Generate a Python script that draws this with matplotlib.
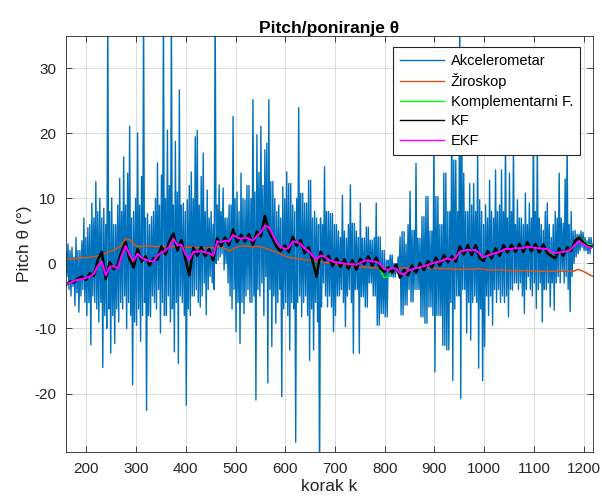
import numpy as np
import matplotlib
matplotlib.use("Agg")
import matplotlib.pyplot as plt

plt.rcParams['font.family'] = ['Liberation Sans', 'DejaVu Sans']
plt.rcParams['axes.unicode_minus'] = False

# ---------------- data ----------------
k_start = 159
acc_step = 2
accel = [
    1.5, -2.0, 3.0, -4.0, 2.0, -5.0, 2.5, -3.5, 1.0, -6.5,
    4.0, -4.5, 2.0, -7.5, 2.0, -5.0, 3.5, -4.0, 7.0, -6.0,
    4.0, -8.0, 5.5, -6.0, 6.0, -12.5, 9.3, -5.0, 7.0, -6.0,
    12.6, -7.0, 8.0, -9.0, 10.0, -6.0, 7.0, -16.0, 8.5, -8.0,
    6.0, -10.0, 40.0, -7.0, 8.0, -13.8, 10.1, -8.0, 6.0, -12.3,
    6.0, -7.0, 9.0, -9.0, 13.1, -6.0, 8.0, -7.0, 16.4, -5.0,
    9.0, -10.0, 13.9, -6.0, 21.1, -8.0, 7.0, -18.7, 8.0, -9.0,
    10.0, -9.5, 20.1, -7.0, 9.0, -12.0, 13.4, -8.0, 40.0, -6.0,
    7.0, -22.6, 7.7, -8.0, 6.0, -8.2, 7.2, -5.0, 8.0, -6.0,
    10.0, -7.0, 15.5, -4.0, 9.0, -10.7, 13.6, -6.0, 40.0, -8.0,
    10.0, -8.0, 20.5, -5.0, 12.0, -9.0, 40.0, -7.0, 9.0, -13.6,
    18.8, -6.0, 11.0, -15.4, 26.7, -5.0, 9.0, -6.0, 9.3, -8.0,
    8.0, -21.8, 9.8, -7.0, 12.0, -8.0, 14.1, -5.0, 10.0, -5.0,
    19.5, -4.0, 20.5, -6.0, 9.0, -6.7, 13.4, -5.0, 17.0, -3.0,
    8.0, -7.9, 11.3, -4.0, 7.0, -2.0, 8.0, -3.0, 6.0, -4.0,
    40.0, 0.0, 9.0, 0.5, 12.1, 1.0, 8.0, 1.5, 11.6, -1.0,
    7.0, 0.0, 7.0, -3.0, 9.0, -5.0, 9.0, -7.0, 22.6, -4.0,
    10.0, -10.5, 11.0, -6.0, 8.0, -12.3, 13.9, -6.0, 10.0, -7.7,
    9.8, -5.0, 12.0, -4.0, 12.0, -6.0, 10.0, -6.0, 25.2, -5.0,
    11.0, -21.0, 19.8, -4.0, 14.0, -5.0, 21.1, -3.0, 12.0, -8.0,
    17.5, -2.0, 18.5, -18.4, 25.2, -4.0, 12.6, -12.8, 12.6, -5.0,
    10.0, -9.2, 8.0, -6.0, 9.0, -4.0, 7.0, -20.5, 11.8, -7.0,
    10.0, -6.0, 14.1, -8.0, 12.3, -13.3, 12.3, -6.0, 9.0, -7.0,
    8.0, -27.5, 10.0, -6.0, 24.0, -5.0, 10.8, -8.2, 10.8, -6.0,
    9.3, -5.0, 9.3, -8.0, 12.8, -14.9, 12.8, -7.0, 7.0, -13.3,
    8.0, -6.0, 7.0, -9.0, 6.0, -35.0, 7.0, -6.7, 6.0, -3.0,
    14.9, -5.0, 8.0, -6.7, 8.0, -5.0, 7.7, -6.7, 7.7, -10.5,
    6.0, -8.0, 6.0, -5.0, 5.0, -5.0, 4.0, -4.0, 10.5, -6.0,
    5.0, -9.7, 3.9, -5.0, 6.0, -4.0, 12.1, -6.0, 6.2, -13.8,
    6.2, -4.0, 5.0, -4.0, 4.0, -13.8, 9.3, -5.1, 3.9, -5.1,
    3.9, -6.7, 5.6, -6.7, 5.6, -3.0, 3.6, -3.0, 3.6, -5.0,
    4.0, -5.0, 9.3, -9.5, 4.1, -9.5, 4.1, -7.7, 2.0, -7.7,
    2.0, -8.2, 0.5, -8.2, 0.5, -2.0, 1.3, -2.0, 1.3, -2.1,
    0.0, -2.1, 0.0, -1.5, 1.0, -1.5, 4.1, -7.9, 4.9, -7.9,
    4.9, -6.4, 3.0, -6.4, 6.0, -4.0, 11.1, -5.9, 5.1, -5.9,
    5.1, -4.0, 15.4, -4.0, 3.9, -4.0, 3.9, -8.2, 7.2, -8.2,
    7.2, -9.2, 10.3, -9.2, 10.3, -6.7, 5.0, -6.7, 5.0, -8.0,
    20.0, -16.7, 10.3, -8.0, 10.3, -8.0, 6.0, -8.0, 6.0, -12.6,
    13.9, -12.6, 13.9, -13.3, 8.0, -13.3, 8.0, -6.0, 25.0, -18.0,
    15.9, -7.0, 15.9, -5.0, 8.0, -5.0, 40.0, -20.8, 22.0, -4.0,
    13.9, -4.0, 8.0, -10.7, 8.0, -6.0, 12.3, -11.8, 9.0, -6.0,
    12.3, -5.0, 8.0, -6.0, 18.0, -16.1, 9.8, -7.0, 8.0, -18.0,
    6.0, -12.8, 9.0, -5.0, 7.0, -8.0, 12.8, -5.0, 8.0, -9.5,
    7.0, -4.0, 14.4, -6.0, 8.0, -4.0, 9.0, -6.0, 14.4, -5.0,
    8.0, -6.0, 20.0, -5.0, 7.0, -8.2, 13.9, -4.0, 8.0, -4.1,
    18.0, -3.0, 6.0, -3.0, 9.8, -4.0, 7.0, -3.0, 7.0, -5.0,
    6.0, -7.7, 10.8, -4.0, 6.0, -2.0, 9.3, -4.0, 7.0, -5.0,
    20.0, -3.0, 8.0, -6.9, 19.0, -4.0, 7.0, -3.0, 6.0, -9.0,
    5.1, -4.0, 8.0, -4.0, 9.3, -3.0, 6.0, -6.7, 4.0, -3.0,
    6.0, -7.2, 8.0, -3.0, 7.0, -2.0, 13.9, -3.0, 7.0, -1.0,
    6.2, -3.0, 13.0, -2.0, 19.0, -4.0, 6.0, -7.4, 8.0, -2.0,
    5.0, 0.0, 5.1, 1.0, 4.5, 1.5, 4.5, 2.0, 5.0, 2.5,
    4.8, 2.0, 4.0, 2.0, 3.5, 1.5, 4.0, 1.5, 4.0, 2.5,
    3.0, 2.5,
]

gyro_step = 10
gyro = [
    0.6, 0.7, 0.8, 0.9, 0.9, 1.0, 1.1, 1.3, 1.6, 1.9,
    2.2, 2.7, 3.8, 3.6, 2.7, 2.6, 2.7, 2.7, 2.6, 2.6,
    2.6, 2.6, 2.6, 2.6, 2.5, 2.5, 2.5, 2.4, 2.4, 2.4,
    2.5, 2.6, 2.3, 1.9, 2.4, 2.7, 2.7, 2.6, 2.6, 2.6,
    2.4, 2.1, 1.8, 1.5, 1.2, 0.9, 0.8, 0.7, 0.6, 0.5,
    0.4, 0.3, 0.2, 0.0, -0.1, -0.2, -0.3, -0.4, -0.5, -0.5,
    -0.6, -0.6, -0.7, -0.7, -0.8, -0.8, -0.8, -0.7, -0.7, -0.7,
    -0.7, -0.7, -0.7, -0.7, -0.7, -0.8, -0.8, -0.8, -0.9, -0.9,
    -0.9, -0.9, -0.9, -0.8, -0.9, -1.0, -1.0, -1.0, -1.0, -1.1,
    -1.1, -1.1, -1.1, -1.1, -1.1, -1.2, -1.2, -1.2, -1.2, -1.2,
    -1.2, -1.2, -1.2, -0.9, -1.2, -1.6, -2.0,
]

filt_step = 8
comp = [
    -3.1, -2.9, -2.8, -2.4, -2.1, -2.3, -1.7, -1.7, 0.2, 1.4,
    -2.1, 0.0, -0.7, -0.4, 1.7, 3.2, 0.9, -0.3, 2.0, 0.5,
    0.9, -0.1, 0.6, 0.8, 2.3, 1.6, 3.1, 4.4, 2.3, 3.4,
    1.0, -1.2, 2.2, 1.4, 2.3, 1.3, 2.0, 0.8, 4.0, 2.9,
    3.8, 3.0, 4.9, 3.5, 4.2, 3.6, 4.3, 3.1, 4.7, 4.4,
    6.8, 5.2, 4.0, 2.7, 2.1, 2.6, 2.0, 3.9, 2.9, 3.4,
    1.8, 2.3, 0.6, -1.4, 1.5, 0.7, 1.0, -0.2, 0.6, -0.3,
    0.4, -0.6, 0.3, -0.7, 0.5, 0.1, 0.9, -0.1, 0.7, -1.0,
    -2.2, -2.0, -1.2, -0.4, -2.0, -1.2, -1.6, -0.5, -1.2, -0.2,
    -0.8, 0.2, -0.4, 0.7, -0.1, 1.1, 0.4, 0.9, 0.5, 2.4,
    1.6, 2.6, 1.5, 2.6, 1.0, 0.6, 1.7, 1.0, 2.1, 1.4,
    2.6, 1.9, 2.7, 2.0, 2.8, 2.0, 3.1, 2.1, 2.8, 1.9,
    2.7, 1.8, 1.4, 1.0, 2.1, 1.4, 2.3, 2.3, 3.6, 4.1,
    3.6, 3.0, 2.9,
]
kf = [
    -3.3, -2.8, -2.9, -2.3, -2.0, -2.5, -1.5, -1.9, 0.5, 1.8,
    -2.4, 0.2, -0.9, -0.2, 1.9, 3.3, 0.6, -0.6, 2.2, 0.3,
    1.1, -0.3, 0.8, 0.6, 2.6, 1.4, 3.4, 4.6, 2.0, 3.6,
    0.8, -1.8, 2.4, 1.2, 2.5, 1.1, 2.2, 0.5, 3.9, 2.7,
    4.0, 2.8, 5.2, 3.3, 4.4, 3.4, 4.5, 2.9, 4.9, 4.2,
    7.3, 5.0, 3.8, 2.5, 1.9, 2.8, 1.8, 4.1, 2.7, 3.6,
    1.6, 2.5, 0.4, -2.0, 1.8, 0.5, 1.2, -0.4, 0.8, -0.5,
    0.6, -0.8, 0.5, -0.9, 0.7, -0.1, 1.1, -0.3, 0.9, -0.7,
    -1.3, -0.6, -1.4, -0.2, -2.2, -1.0, -1.8, -0.3, -1.4, 0.0,
    -1.0, 0.4, -0.6, 0.9, -0.3, 1.3, 0.2, 1.1, 0.3, 2.6,
    1.4, 2.8, 1.3, 2.8, 0.8, 0.4, 1.9, 0.8, 2.3, 1.2,
    2.8, 1.7, 2.9, 1.8, 3.0, 1.8, 3.3, 1.9, 3.0, 1.7,
    2.9, 1.6, 1.2, 0.8, 2.3, 1.2, 2.5, 2.0, 3.5, 4.0,
    3.3, 2.7, 2.6,
]
ekf = [
    -3.2, -3.0, -2.7, -2.5, -2.4, -2.2, -2.0, -1.6, -0.4, 0.3,
    -1.8, -0.5, -0.4, -0.8, 1.2, 2.7, 1.4, 0.4, 1.5, 0.9,
    0.6, 0.4, 0.3, 1.2, 1.7, 2.0, 2.6, 3.8, 2.8, 2.9,
    1.5, 0.6, 1.8, 1.8, 1.9, 1.7, 1.6, 1.2, 3.4, 3.3,
    3.5, 3.4, 4.4, 4.0, 3.8, 4.0, 3.8, 3.5, 4.2, 4.8,
    5.8, 5.6, 4.4, 3.2, 2.6, 2.2, 2.4, 3.4, 3.3, 3.0,
    2.3, 1.9, 1.2, 0.7, 1.2, 1.1, 0.6, 0.3, 0.2, 0.1,
    0.0, -0.1, -0.1, -0.2, 0.1, 0.4, 0.5, 0.3, 0.3, -0.1,
    -0.8, -1.0, -0.7, -0.8, -1.5, -1.7, -1.1, -0.9, -0.7, -0.6,
    -0.4, -0.2, 0.0, 0.2, 0.3, 0.6, 0.8, 0.5, 0.9, 1.8,
    2.0, 2.1, 2.0, 2.1, 1.5, 1.0, 1.2, 1.4, 1.6, 1.8,
    2.1, 2.3, 2.2, 2.4, 2.3, 2.4, 2.6, 2.5, 2.4, 2.3,
    2.3, 2.2, 1.8, 1.6, 1.7, 1.8, 1.9, 2.2, 2.9, 3.4,
    3.0, 2.6, 2.4,
]

labels = ["Akcelerometar", "Žiroskop", "Komplementarni F.", "KF", "EKF"]
colors = ["#0072BD", "#D95319", "#00FF00", "#000000", "#FF00FF"]
x_ticks = [200, 300, 400, 500, 600, 700, 800, 900, 1000, 1100, 1200]
y_ticks = [-20, -10, 0, 10, 20, 30]
x_lim = (159, 1219)
y_lim = (-29, 35)

# ---------------- plot ----------------
k_acc = np.arange(k_start, k_start + acc_step * len(accel), acc_step)
k_gyro = np.arange(k_start, k_start + gyro_step * len(gyro), gyro_step)
k_filt_c = np.arange(k_start, k_start + filt_step * len(comp), filt_step)
k_filt_k = np.arange(k_start, k_start + filt_step * len(kf), filt_step)
k_filt_e = np.arange(k_start, k_start + filt_step * len(ekf), filt_step)

fig = plt.figure(figsize=(6.02, 4.98), dpi=100)
ax = fig.add_axes([66 / 602, 1 - 452 / 498, (593 - 66) / 602, (452 - 36) / 498])

ax.plot(k_acc, accel, color=colors[0], lw=1.0, label=labels[0])
ax.plot(k_gyro, gyro, color=colors[1], lw=1.1, label=labels[1])
ax.plot(k_filt_c, comp, color=colors[2], lw=1.0, label=labels[2])
ax.plot(k_filt_k, kf, color=colors[3], lw=1.9, label=labels[3])
ax.plot(k_filt_e, ekf, color=colors[4], lw=1.5, label=labels[4])

ax.set_xlim(*x_lim)
ax.set_ylim(*y_lim)
ax.set_xticks(x_ticks)
ax.set_yticks(y_ticks)
ax.tick_params(direction='in', top=True, right=True, length=4, width=0.6,
               labelsize=11, colors='#262626', pad=7)
for s in ax.spines.values():
    s.set_color('#262626')
    s.set_linewidth(0.6)
ax.grid(True, color='#dcdcdc', lw=0.7)
ax.set_axisbelow(True)

ax.set_title("Pitch/poniranje θ", fontsize=12.5, fontweight='bold', color='#000000', pad=2.5)
ax.set_xlabel("korak k", fontsize=12.5, color='#262626', labelpad=2)
ax.set_ylabel("Pitch θ (°)", fontsize=12.5, color='#262626', labelpad=1.5)

leg = ax.legend(loc='upper right', bbox_to_anchor=(0.975, 0.973), fontsize=10.5,
                frameon=True, fancybox=False, framealpha=1, edgecolor='#262626',
                handlelength=3.0, handletextpad=0.5, labelspacing=0.38,
                borderpad=0.45, borderaxespad=0.0)
leg.get_frame().set_linewidth(0.8)
for ln in leg.get_lines():
    ln.set_linewidth(1.0)

fig.savefig("out.png", dpi=100)
